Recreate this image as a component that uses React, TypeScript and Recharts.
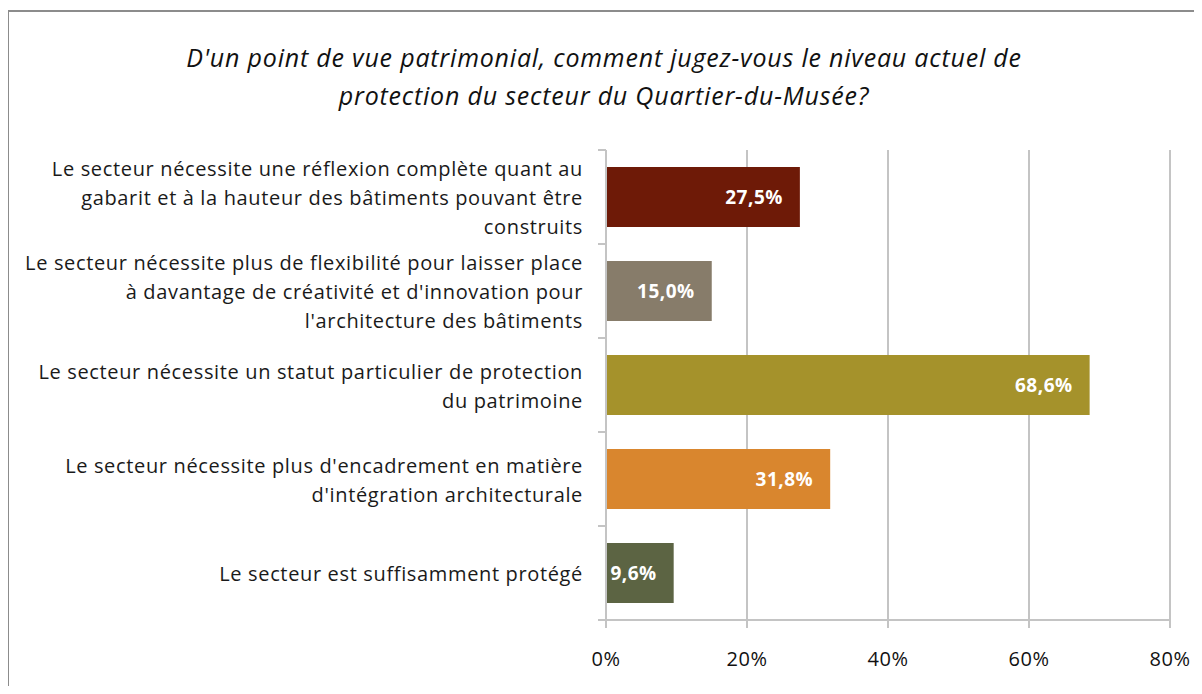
import { BarChart, Bar, XAxis, YAxis, CartesianGrid, Cell, LabelList } from "recharts";

const categories = [
  "Le secteur nécessite une réflexion complète quant au\ngabarit et à la hauteur des bâtiments pouvant être\nconstruits",
  "Le secteur nécessite plus de flexibilité pour laisser place\nà davantage de créativité et d'innovation pour\nl'architecture des bâtiments",
  "Le secteur nécessite un statut particulier de protection\ndu patrimoine",
  "Le secteur nécessite plus d'encadrement en matière\nd'intégration architecturale",
  "Le secteur est suffisamment protégé",
];
const values = [27.5, 15.0, 68.6, 31.8, 9.6];
const colors = ["#6E1A07", "#877C6A", "#A5922B", "#D9862E", "#5C6443"];
const xTicks = [0, 20, 40, 60, 80];

const data = categories.map((name, i) => ({ name, value: values[i] }));

const FONT = "'Open Sans', sans-serif";
const GRID = "#C4C4C4";
const BAND = 94; // plot height / categories

const CategoryTick = (props: any) => {
  const { x, y, payload } = props;
  const lines: string[] = String(payload.value).split("\n");
  const lh = 29;
  const start = y - ((lines.length - 1) * lh) / 2;
  const axisX = x + 8;
  return (
    <g>
      <line x1={axisX - 8} x2={axisX} y1={y - BAND / 2} y2={y - BAND / 2} stroke={GRID} strokeWidth={2} />
      <line x1={axisX - 8} x2={axisX} y1={y + BAND / 2} y2={y + BAND / 2} stroke={GRID} strokeWidth={2} />
      <text
        x={axisX - 23}
        y={start}
        textAnchor="end"
        dominantBaseline="central"
        fontFamily={FONT}
        fontSize={20}
        letterSpacing={0.65}
        fill="#1a1a1a"
      >
        {lines.map((l, i) => (
          <tspan key={i} x={axisX - 23} y={start + i * lh}>{l}</tspan>
        ))}
      </text>
    </g>
  );
};

export default function App() {
  return (
    <div style={{ position: "relative", width: 1186, height: 678 }}>
      <div
        style={{
          position: "absolute",
          left: -1,
          top: 2,
          width: 1300,
          height: 800,
          borderTop: "2px solid #8C8C8C",
          borderLeft: "2px solid #8C8C8C",
          boxSizing: "border-box",
        }}
      />
      <div
        style={{
          position: "absolute",
          left: -22,
          top: 30,
          width: 1236,
          textAlign: "center",
          fontFamily: FONT,
          fontStyle: "italic",
          fontSize: 25,
          letterSpacing: 0.8,
          lineHeight: "38px",
          color: "#111",
        }}
      >
        D'un point de vue patrimonial, comment jugez-vous le niveau actuel de
        <br />
        protection du secteur du Quartier-du-Musée?
      </div>
      <div style={{ position: "absolute", left: -8, top: -8 }}>
        <BarChart
          width={1202}
          height={694}
          data={data}
          layout="vertical"
          barCategoryGap="18%"
          margin={{ top: 150, right: 32, bottom: 0, left: 0 }}
        >
          <CartesianGrid horizontal={false} stroke={GRID} strokeWidth={2} />
          <XAxis
            type="number"
            domain={[0, 80]}
            ticks={xTicks}
            tickFormatter={(v) => `${v}%`}
            axisLine={{ stroke: GRID, strokeWidth: 2 }}
            tickLine={{ stroke: GRID, strokeWidth: 2 }}
            tickSize={8}
            tickMargin={24}
            height={74}
            tick={{ fontFamily: FONT, fontSize: 20, fill: "#111", letterSpacing: 0.6 }}
          />
          <XAxis
            xAxisId="top"
            orientation="top"
            type="number"
            domain={[0, 80]}
            height={0}
            tick={false}
            tickLine={false}
            axisLine={{ stroke: GRID, strokeWidth: 2 }}
          />
          <YAxis
            type="category"
            dataKey="name"
            width={606}
            axisLine={{ stroke: GRID, strokeWidth: 2 }}
            tickLine={false}
            tickSize={8}
            tickMargin={0}
            tick={<CategoryTick />}
            interval={0}
          />
          <Bar dataKey="value" isAnimationActive={false}>
            {data.map((_, i) => (
              <Cell key={i} fill={colors[i]} />
            ))}
            <LabelList
              dataKey="value"
              position="insideRight"
              offset={17}
              formatter={(v: any) => `${Number(v).toFixed(1).replace(".", ",")}%`}
              style={{ fontFamily: FONT, fontSize: 19, fontWeight: 700, fill: "#fff", letterSpacing: 0.5 }}
            />
          </Bar>
        </BarChart>
      </div>
    </div>
  );
}
